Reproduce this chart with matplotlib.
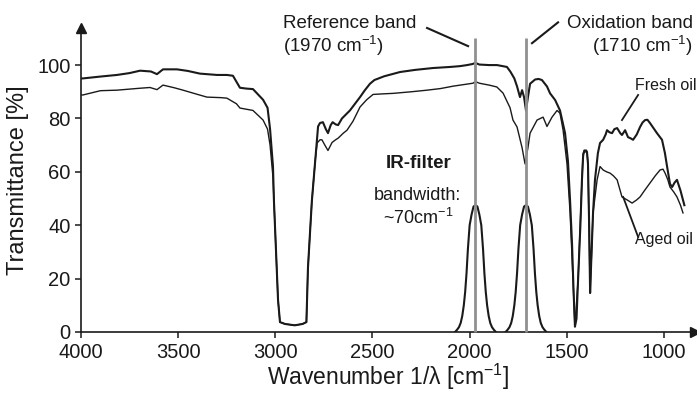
import numpy as np
import matplotlib
matplotlib.use("Agg")
import matplotlib.pyplot as plt

plt.rcParams['font.family'] = ['Liberation Sans', 'DejaVu Sans']
plt.rcParams['mathtext.fontset'] = 'custom'
plt.rcParams['mathtext.rm'] = 'Liberation Sans'
plt.rcParams['mathtext.default'] = 'regular'

# Fresh oil spectrum (wavenumber, transmittance)
fresh_wn = [4000, 3990, 3900, 3815, 3750, 3696, 3640, 3609, 3578, 3506, 3450, 3388, 3300, 3249,
            3218, 3182, 3150, 3115, 3063, 3040, 3027, 3012, 3007, 2986, 2976, 2950, 2900, 2860,
            2840, 2832, 2812, 2790, 2780, 2770, 2755, 2740, 2729, 2715, 2705, 2690, 2677, 2657,
            2630, 2616, 2590, 2564, 2540, 2513, 2490, 2440, 2358, 2280, 2188, 2100, 2050, 2013,
            1985, 1970, 1950, 1900, 1859, 1830, 1808, 1790, 1770, 1756, 1741, 1730, 1720, 1710,
            1700, 1689, 1663, 1645, 1628, 1602, 1586, 1560, 1535, 1509, 1494, 1483, 1473, 1465,
            1458, 1450, 1442, 1430, 1422, 1416, 1410, 1400, 1396, 1391, 1385, 1380, 1375, 1365,
            1355, 1340, 1329, 1313, 1300, 1293, 1280, 1267, 1255, 1241, 1225, 1216, 1200, 1185,
            1170, 1159, 1140, 1123, 1110, 1097, 1085, 1072, 1050, 1036, 1020, 1010, 995, 984,
            969, 958, 945, 933, 915, 902, 895]
fresh_t = [95.0, 95.0, 95.7, 96.3, 97.0, 97.9, 97.6, 96.6, 98.4, 98.4, 97.8, 96.8, 96.3, 96.3,
           96.0, 91.5, 91.2, 91.0, 87.0, 84.0, 76.0, 62.0, 49.0, 12.0, 3.7, 3.0, 2.5, 3.0,
           3.7, 24.0, 49.0, 68.0, 77.0, 78.3, 78.6, 76.0, 74.5, 77.5, 78.6, 77.8, 77.5, 80.0,
           82.0, 83.0, 85.5, 88.0, 90.5, 93.0, 94.4, 95.8, 97.4, 98.2, 98.9, 99.3, 99.6, 100.0,
           100.4, 100.8, 100.2, 100.0, 100.0, 99.6, 99.3, 97.5, 95.0, 92.0, 88.0, 90.6, 88.0, 83.0,
           88.0, 93.0, 94.6, 94.8, 94.4, 92.0, 89.4, 86.9, 83.0, 74.5, 64.0, 49.0, 33.0, 15.0,
           2.0, 5.0, 19.5, 40.0, 57.0, 66.0, 68.0, 68.0, 67.4, 63.0, 40.0, 14.6, 25.0, 44.6,
           57.0, 67.0, 70.8, 72.0, 74.0, 75.6, 74.8, 74.5, 76.0, 76.4, 74.5, 73.8, 75.6, 73.0,
           72.5, 72.0, 74.0, 76.8, 78.5, 79.4, 79.5, 78.3, 76.0, 74.5, 73.0, 72.0, 67.0, 62.0,
           55.5, 54.3, 56.0, 57.0, 53.0, 49.4, 47.5]

# Aged oil spectrum
aged_wn = [4000, 3990, 3900, 3815, 3700, 3645, 3609, 3578, 3520, 3475, 3400, 3352, 3280, 3249,
           3200, 3182, 3115, 3063, 3040, 3027, 3012, 3007, 2986, 2976, 2950, 2900, 2860, 2840,
           2832, 2812, 2795, 2785, 2770, 2760, 2745, 2729, 2715, 2708, 2690, 2677, 2650, 2631,
           2600, 2564, 2530, 2497, 2450, 2394, 2300, 2219, 2150, 2085, 2020, 1983, 1970, 1950,
           1900, 1860, 1828, 1792, 1777, 1756, 1730, 1715, 1700, 1689, 1653, 1622, 1602, 1576,
           1550, 1535, 1519, 1499, 1483, 1468, 1458, 1442, 1422, 1416, 1405, 1396, 1391, 1380,
           1365, 1344, 1329, 1313, 1295, 1277, 1260, 1241, 1216, 1190, 1164, 1140, 1123, 1100,
           1072, 1045, 1020, 1005, 994, 980, 969, 950, 933, 915, 902]
aged_t = [88.8, 88.8, 90.4, 90.6, 91.3, 91.6, 90.8, 92.5, 91.5, 90.6, 89.0, 88.0, 87.8, 87.6,
          85.5, 83.9, 83.0, 79.4, 76.0, 70.0, 58.0, 49.0, 12.0, 3.7, 3.0, 2.5, 3.0, 3.7,
          24.0, 49.0, 64.0, 70.8, 72.0, 72.0, 70.0, 68.0, 70.0, 71.0, 72.0, 72.6, 74.5, 75.6,
          79.0, 84.3, 87.0, 89.0, 89.2, 89.4, 90.0, 90.6, 91.2, 92.1, 92.8, 93.2, 93.8, 93.2,
          92.5, 91.8, 89.5, 84.0, 79.4, 76.8, 69.0, 63.0, 69.0, 74.5, 79.4, 80.5, 77.0, 80.5,
          83.0, 82.0, 75.6, 63.0, 44.6, 19.5, 2.0, 19.5, 57.0, 67.0, 67.5, 67.4, 63.0, 14.6,
          44.6, 57.0, 62.0, 60.7, 60.0, 59.5, 58.5, 57.0, 50.6, 49.5, 48.3, 49.5, 50.6, 53.0,
          55.8, 58.5, 60.7, 61.0, 59.5, 57.0, 54.3, 52.5, 50.6, 47.5, 44.6]

# IR filter transmission curves
filt1_wn = [2075, 2065, 2055, 2046, 2038, 2030, 2023, 2016, 2009, 2000, 1990, 1980, 1970,
            1960, 1950, 1940, 1931, 1924, 1917, 1910, 1902, 1894, 1885, 1875, 1865]
filt1_t = [0, 0.8, 1.8, 3.4, 6, 10, 15, 22, 31, 40, 44, 47, 47.5,
           47, 44, 40, 31, 22, 15, 10, 6, 3.4, 1.8, 0.8, 0]
filt2_wn = [1815, 1805, 1795, 1786, 1778, 1770, 1763, 1756, 1749, 1740, 1730, 1720, 1710,
            1700, 1690, 1680, 1671, 1664, 1657, 1650, 1642, 1634, 1625, 1615, 1605]
filt2_t = [0, 0.8, 1.8, 3.4, 6, 10, 15, 22, 31, 40, 44, 47, 47.5,
           47, 44, 40, 31, 22, 15, 10, 6, 3.4, 1.8, 0.8, 0]

bands = [1970, 1710]
xticks = [4000, 3500, 3000, 2500, 2000, 1500, 1000]
yticks = [0, 20, 40, 60, 80, 100]

fig = plt.figure(figsize=(6.97, 3.94), dpi=100)
ax = fig.add_axes([0.1162, 0.1574, 0.881, 0.7716])

ink = '#1a1a1a'
ax.plot(fresh_wn, fresh_t, color=ink, lw=1.5)
ax.plot(aged_wn, aged_t, color=ink, lw=1.0)
ax.plot(filt1_wn, filt1_t, color=ink, lw=1.5)
ax.plot(filt2_wn, filt2_t, color=ink, lw=1.5)
ax.vlines(bands, 0, 110, color='#909090', lw=2, zorder=5, clip_on=False)

ax.set_xlim(4000, 840)
ax.set_ylim(0, 113.9)
ax.set_xticks(xticks)
ax.set_yticks(yticks)
ax.tick_params(labelsize=14.5, length=4, width=1.1, color=ink, labelcolor=ink)
ax.tick_params(axis='x', pad=4)
for s in ['top', 'right']:
    ax.spines[s].set_visible(False)
for s in ['left', 'bottom']:
    ax.spines[s].set_linewidth(1.2)
    ax.spines[s].set_color(ink)

# axis arrows
ax.plot(1, 0, marker='>', color=ink, ms=7, transform=ax.transAxes, clip_on=False)
ax.plot(0, 1, marker='^', color=ink, ms=7, transform=ax.transAxes, clip_on=False)

ax.set_xlabel('Wavenumber 1/λ [cm$^{-1}$]', fontsize=16.5, color=ink, labelpad=0)
ax.set_ylabel('Transmittance [%]', fontsize=17, color=ink, labelpad=6)

# annotations
ax.text(2960, 118.7, 'Reference band\n(1970 cm$^{-1}$)', fontsize=13.5, color=ink,
        ha='left', va='top', linespacing=1.1, clip_on=False)
ax.plot([2219, 2008], [113.9, 107.1], color=ink, lw=1.5, clip_on=False)
ax.text(850, 118.7, 'Oxidation band\n(1710 cm$^{-1}$)', fontsize=13.5, color=ink,
        ha='right', va='top', multialignment='right', linespacing=1.1, clip_on=False)
ax.plot([1545, 1679], [116, 108.2], color=ink, lw=1.5, clip_on=False)

ax.text(2262, 63.3, 'IR-filter', fontsize=13.5, fontweight='bold', color=ink,
        ha='center', va='center')
ax.text(2271, 51.3, 'bandwidth:', fontsize=13, color=ink, ha='center', va='center')
ax.text(2266, 42.7, '~70cm$^{-1}$', fontsize=13, color=ink, ha='center', va='center')

ax.text(1149, 92.5, 'Fresh oil', fontsize=11.5, color=ink, ha='left', va='center')
ax.plot([1133, 1216], [88.8, 79.4], color=ink, lw=1.3)
ax.text(1149, 34.5, 'Aged oil', fontsize=11.5, color=ink, ha='left', va='center')
ax.plot([1133, 1210], [35.6, 50.6], color=ink, lw=1.3)

fig.savefig('out.png', dpi=100)
